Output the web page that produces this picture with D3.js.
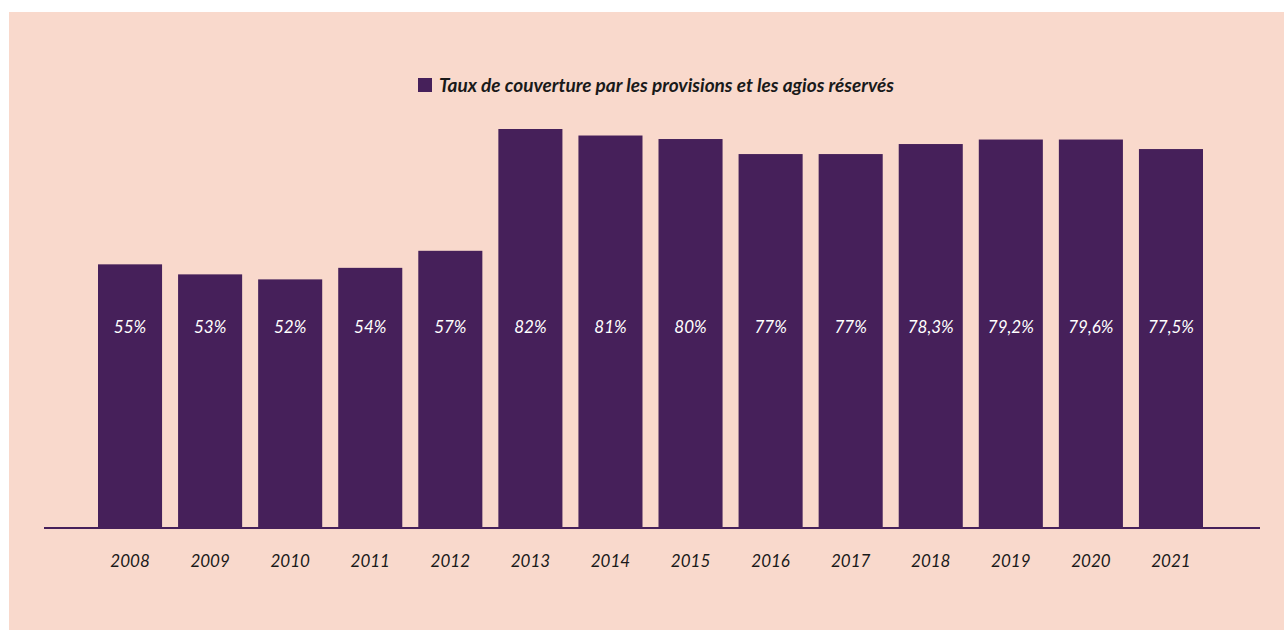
<!DOCTYPE html>
<html>
<head>
<meta charset="utf-8">
<script src="https://cdn.jsdelivr.net/npm/d3@7"></script>
<style>
  html, body { margin: 0; padding: 0; background: #ffffff; }
  svg { display: block; }
</style>
</head>
<body>
<svg id="chart" width="1284" height="630"></svg>
<script>
// Data
const years = ["2008", "2009", "2010", "2011", "2012", "2013", "2014", "2015", "2016", "2017", "2018", "2019", "2020", "2021"];
const values = [55, 53, 52, 54.3, 57.7, 82, 80.7, 80, 77, 77, 79, 79.9, 79.9, 78];
const valueLabels = ["55%", "53%", "52%", "54%", "57%", "82%", "81%", "80%", "77%", "77%", "78,3%", "79,2%", "79,6%", "77,5%"];
const seriesName = "Taux de couverture par les provisions et les agios réservés";

const colors = { panel: "#f9d9cc", bar: "#46205a", text: "#1a1a1a", label: "#ffffff" };
const font = "Lato, 'Open Sans', sans-serif";

const svg = d3.select("#chart");

// Background panel
svg.append("rect")
	.attr("x", 9).attr("y", 12)
	.attr("width", 1275).attr("height", 618)
	.attr("fill", colors.panel);

const baseline = 527;

// Scales
const x = d3.scaleBand()
	.domain(years)
	.range([90, 1211])
	.paddingInner(0.2)
	.paddingOuter(0.1);

const y = d3.scaleLinear()
	.domain([2.6, 82])
	.range([baseline, 129]);

// Bars
const g = svg.append("g").attr("class", "bars");
g.selectAll("rect")
	.data(values)
	.join("rect")
		.attr("x", (d, i) => x(years[i]))
		.attr("y", d => y(d))
		.attr("width", x.bandwidth())
		.attr("height", d => baseline - y(d))
		.attr("fill", colors.bar);

// Value labels inside bars
g.selectAll("text")
	.data(valueLabels)
	.join("text")
		.attr("x", (d, i) => x(years[i]) + x.bandwidth() / 2)
		.attr("y", 333)
		.attr("text-anchor", "middle")
		.style("font-family", font)
		.style("font-style", "italic")
		.style("font-size", "17px")
		.style("fill", colors.label)
		.text(d => d);

// Baseline
svg.append("line")
	.attr("x1", 44).attr("x2", 1260)
	.attr("y1", baseline + 1).attr("y2", baseline + 1)
	.attr("stroke", colors.bar)
	.attr("stroke-width", 2);

// x-axis labels
const xAxis = svg.append("g")
	.attr("transform", "translate(0," + baseline + ")")
	.call(d3.axisBottom(x).tickSize(0).tickPadding(28));
xAxis.select(".domain").remove();
xAxis.selectAll("text")
	.style("font-family", font)
	.style("font-style", "italic")
	.style("font-size", "17px")
	.style("fill", colors.text);

// Legend
const legend = svg.append("g").attr("class", "legend");
legend.append("rect")
	.attr("x", 418).attr("y", 78)
	.attr("width", 14).attr("height", 14)
	.attr("fill", colors.bar);
legend.append("text")
	.attr("x", 439).attr("y", 92)
	.style("font-family", font)
	.style("font-style", "italic")
	.style("font-weight", "bold")
	.style("font-size", "19px")
	.style("fill", colors.text)
	.text(seriesName);
</script>
</body>
</html>
